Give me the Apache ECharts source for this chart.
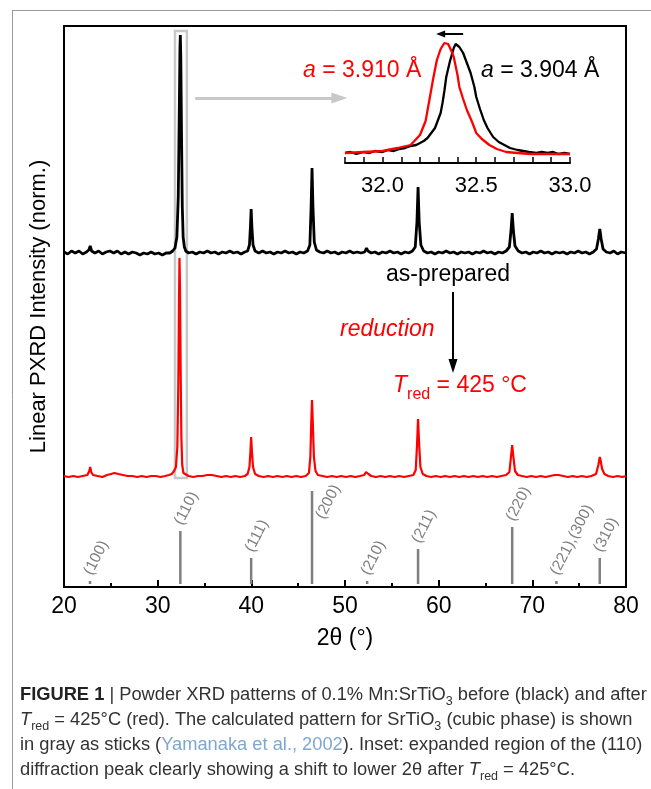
<!DOCTYPE html>
<html>
<head>
<meta charset="utf-8">
<script src="https://cdn.jsdelivr.net/npm/echarts@6.0.0/dist/echarts.min.js"></script>
<style>
  html, body { margin: 0; padding: 0; background: #fff; }
  #main { width: 651px; height: 789px; }
</style>
</head>
<body>
<div id="main"></div>
<script>
// black: as-prepared pattern (2theta, intensity, offset)
var blackPattern = [
  [20.0,335],[20.4,333],[20.8,336],[21.2,334],[21.6,336],[22.0,333],[22.4,335],[22.65,337],[22.8,341],[22.95,336],
  [23.3,334],[23.7,336],[24.1,333],[24.5,335],[24.9,336],[25.3,334],[25.7,336],[26.1,333],[26.5,335],[26.9,333],
  [27.3,335],[27.7,334],[28.1,332],[28.5,334],[28.9,333],[29.3,335],[29.7,333],[30.1,334],[30.5,332],[30.9,334],
  [31.3,334],[31.6,336],[31.85,339],[32.05,350],[32.2,390],[32.3,470],[32.38,540],[32.42,552],[32.47,530],[32.55,450],
  [32.63,380],[32.72,350],[32.85,340],[33.0,336],[33.3,334],[33.7,335],[34.1,333],[34.5,335],[34.9,334],[35.3,336],
  [35.7,334],[36.1,335],[36.5,333],[36.9,335],[37.3,334],[37.7,336],[38.1,334],[38.5,335],[38.9,333],[39.3,335],
  [39.6,336],[39.8,342],[39.9,360],[39.98,378],[40.06,360],[40.18,342],[40.4,336],[40.8,334],[41.2,336],[41.6,334],
  [42.0,335],[42.4,333],[42.8,335],[43.2,334],[43.6,336],[44.0,334],[44.4,335],[44.8,333],[45.2,335],[45.6,334],
  [46.0,336],[46.25,342],[46.38,380],[46.48,419],[46.58,380],[46.72,345],[46.95,337],[47.3,335],[47.7,334],[48.1,336],
  [48.5,334],[48.9,335],[49.3,333],[49.7,335],[50.1,334],[50.5,336],[50.9,334],[51.3,335],[51.7,334],[52.1,335],
  [52.3,339],[52.45,336],[52.8,334],[53.2,335],[53.6,333],[54.0,335],[54.4,334],[54.8,336],[55.2,334],[55.6,335],
  [56.0,333],[56.4,335],[56.8,334],[57.2,336],[57.5,340],[57.68,365],[57.8,400],[57.92,365],[58.1,342],[58.4,336],
  [58.8,334],[59.2,335],[59.6,333],[60.0,335],[60.4,334],[60.8,336],[61.2,334],[61.6,335],[62.0,333],[62.4,335],
  [62.8,334],[63.2,335],[63.6,333],[64.0,335],[64.4,334],[64.8,336],[65.2,334],[65.6,335],[66.0,333],[66.4,335],
  [66.8,334],[67.2,336],[67.55,340],[67.72,356],[67.85,374],[67.98,356],[68.15,341],[68.5,336],[68.9,334],[69.3,335],
  [69.7,333],[70.1,335],[70.5,334],[70.9,336],[71.3,334],[71.7,335],[72.1,333],[72.5,335],[72.9,334],[73.3,335],
  [73.7,333],[74.1,335],[74.5,334],[74.9,336],[75.3,334],[75.7,335],[76.1,333],[76.5,335],[76.85,338],[77.05,348],
  [77.2,358],[77.35,348],[77.55,338],[77.9,335],[78.3,334],[78.7,336],[79.1,333],[79.5,335],[80.0,334]
];
// red: after reduction at 425 C
var redPattern = [
  [20.0,111],[20.5,110],[21.0,111],[21.5,110],[22.0,111],[22.5,112],[22.7,116],[22.8,120],[22.9,115],[23.1,112],
  [23.6,111],[24.1,110],[24.6,112],[25.0,113],[25.4,114],[25.8,113],[26.3,112],[26.8,111],[27.3,111],[27.8,110],
  [28.3,111],[28.8,110],[29.3,111],[29.8,111],[30.3,110],[30.8,111],[31.2,112],[31.5,113],[31.75,116],[31.95,120],
  [32.1,140],[32.2,200],[32.28,290],[32.33,329],[32.38,300],[32.45,220],[32.53,150],[32.62,122],[32.75,114],[32.95,112],
  [33.3,111],[33.8,110],[34.3,111],[34.8,111],[35.3,112],[35.8,112],[36.3,111],[36.8,110],[37.3,111],[37.8,110],
  [38.3,111],[38.8,110],[39.3,111],[39.6,113],[39.8,120],[39.9,135],[39.98,150],[40.06,136],[40.18,120],[40.4,113],
  [40.8,111],[41.3,110],[41.8,111],[42.3,110],[42.8,111],[43.3,110],[43.8,111],[44.3,110],[44.8,111],[45.3,110],
  [45.8,111],[46.15,114],[46.3,130],[46.4,165],[46.48,187],[46.56,165],[46.68,130],[46.85,116],[47.1,112],[47.6,111],
  [48.1,110],[48.6,111],[49.1,110],[49.6,111],[50.1,110],[50.6,111],[51.1,110],[51.6,111],[52.05,112],[52.25,115],
  [52.36,117],[52.5,113],[52.8,111],[53.3,110],[53.8,111],[54.3,110],[54.8,111],[55.3,110],[55.8,111],[56.3,110],
  [56.8,111],[57.3,112],[57.55,117],[57.68,140],[57.8,168],[57.92,142],[58.05,120],[58.3,113],[58.7,111],[59.2,110],
  [59.7,111],[60.2,110],[60.7,111],[61.2,110],[61.7,111],[62.2,110],[62.7,111],[63.2,110],[63.7,111],[64.2,110],
  [64.7,111],[65.2,110],[65.7,111],[66.2,110],[66.7,111],[67.2,112],[67.55,115],[67.72,130],[67.85,142],[67.98,130],
  [68.15,116],[68.45,112],[68.9,111],[69.4,110],[69.9,111],[70.4,110],[70.9,111],[71.4,110],[71.9,111],[72.4,112],
  [72.6,113],[72.8,112],[73.3,111],[73.8,110],[74.3,111],[74.8,110],[75.3,111],[75.8,110],[76.3,111],[76.8,113],
  [77.05,122],[77.2,130],[77.3,126],[77.45,118],[77.7,113],[78.1,111],[78.6,110],[79.1,111],[79.6,110],[80.0,111]
];
// inset, (110) region
var insetBlack = [
  [31.80,10],[31.83,11],[31.86,9],[31.90,11],[31.93,10],[31.96,12],[32.00,11],[32.03,13],[32.06,12],[32.09,14],
  [32.12,15],[32.15,17],[32.18,18],[32.20,20],[32.22,22],[32.24,25],[32.26,30],[32.28,35],[32.29,40],[32.31,50],
  [32.32,60],[32.33,72],[32.34,86],[32.36,102],[32.38,115],[32.39,119],[32.40,117],[32.41,116],[32.43,110],[32.45,100],
  [32.47,90],[32.49,76],[32.50,66],[32.52,54],[32.54,43],[32.56,35],[32.59,26],[32.62,21],[32.65,18],[32.68,15],
  [32.70,14],[32.72,13],[32.75,12],[32.78,11],[32.82,10],[32.85,11],[32.88,10],[32.91,11],[32.94,9],[32.97,10],[33.00,9]
];
var insetRed = [
  [31.80,10],[31.90,11],[32.00,12],[32.08,15],[32.15,18],[32.20,28],[32.23,42],[32.25,63],[32.27,84],[32.29,103],
  [32.31,114],[32.33,120],[32.35,119],[32.37,111],[32.38,106],[32.40,88],[32.41,76],[32.43,64],[32.45,53],[32.48,40],
  [32.50,30],[32.53,24],[32.57,18],[32.61,14],[32.66,11],[32.72,10],[32.79,9],[32.90,9],[33.00,9]
];
// calculated SrTiO3 sticks
var stickPos = [22.78, 32.42, 39.98, 46.48, 52.36, 57.80, 67.85, 72.57, 77.20];
var stickInt = [6, 56, 29, 96, 6, 38, 60, 6, 29];
var stickLabels = ['(100)', '(110)', '(111)', '(200)', '(210)', '(211)', '(220)', '(221),(300)', '(310)'];

var FONT = '"Liberation Sans", Arial, sans-serif';

var sticks = [];
for (var i = 0; i < stickPos.length; i++) {
  sticks.push([stickPos[i], stickInt[i]]);
}

function cap(y, text, rich) {
  return {
    type: 'text', x: 20, y: y,
    style: { text: text, rich: rich, fill: '#333', fontSize: 18.3, fontFamily: FONT, verticalAlign: 'middle' }
  };
}
var capRich = {
  b: { fontWeight: 'bold', fontSize: 18.3, fontFamily: FONT, fill: '#222' },
  t: { fontStyle: 'italic', fontSize: 18.3, fontFamily: FONT, fill: '#333', lineHeight: 26, verticalAlign: 'middle' },
  s: { fontSize: 12.5, fontFamily: FONT, fill: '#333', lineHeight: 26, verticalAlign: 'bottom' },
  l: { fontSize: 18.3, fontFamily: FONT, fill: '#7ea7cf' }
};
var noteRich = {
  i: { fontStyle: 'italic', fontSize: 23, fontFamily: FONT, fill: '#ff0000', lineHeight: 34, verticalAlign: 'middle' },
  s: { fontSize: 16, fontFamily: FONT, fill: '#ff0000', lineHeight: 34, verticalAlign: 'bottom' },
  n: { fontSize: 23, fontFamily: FONT, fill: '#ff0000', lineHeight: 34, verticalAlign: 'middle' }
};

echarts.init(document.getElementById('main')).setOption({
  animation: false,
  backgroundColor: '#fff',
  grid: [
    { left: 64, right: 25, top: 26, bottom: 202, show: true, borderColor: '#000', borderWidth: 2 },
    { left: 345, right: 81, top: 30, bottom: 626 }
  ],
  xAxis: [{
    type: 'value', min: 20, max: 80, interval: 10, gridIndex: 0,
    name: '2θ (°)', nameLocation: 'middle', nameGap: 40,
    nameTextStyle: { fontSize: 23, fontFamily: FONT, color: '#000' },
    axisLine: { lineStyle: { color: '#000', width: 2 } },
    axisTick: { inside: true, length: 7, lineStyle: { color: '#000', width: 2 } },
    minorTick: { show: true, splitNumber: 2, length: 4, lineStyle: { color: '#000', width: 2 } },
    axisLabel: { fontSize: 23, fontFamily: FONT, color: '#000', margin: 8 },
    splitLine: { show: false }
  }, {
    type: 'value', min: 31.8, max: 33.0, interval: 0.1, gridIndex: 1,
    axisLine: { lineStyle: { color: '#000', width: 2 } },
    axisTick: { inside: true, length: 6, lineStyle: { color: '#000', width: 1.5 } },
    axisLabel: {
      fontSize: 22, fontFamily: FONT, color: '#000', margin: 12, showMinLabel: true, showMaxLabel: true,
      formatter: function (v) {
        return Math.abs(v * 2 - Math.round(v * 2)) < 1e-6 ? v.toFixed(1) : '';
      }
    },
    splitLine: { show: false }
  }],
  yAxis: [{
    type: 'value', min: 0, max: 561, gridIndex: 0,
    name: 'Linear PXRD Intensity (norm.)', nameLocation: 'middle', nameGap: 14,
    nameTextStyle: { fontSize: 22, fontFamily: FONT, color: '#000' },
    axisLine: { show: true, lineStyle: { color: '#000', width: 2 } },
    axisTick: { show: false }, axisLabel: { show: false }, splitLine: { show: false }
  }, {
    type: 'value', min: 0, max: 133, gridIndex: 1, show: false
  }],
  series: [{
    name: 'as-prepared', type: 'line', xAxisIndex: 0, yAxisIndex: 0,
    data: blackPattern, showSymbol: false, z: 3,
    lineStyle: { color: '#000', width: 2.8 },
    markArea: {
      silent: true,
      itemStyle: { color: 'rgba(0,0,0,0)', borderColor: '#c8c8c8', borderWidth: 2.5 },
      data: [[{ xAxis: 31.85, yAxis: 109 }, { xAxis: 33.12, yAxis: 556 }]]
    },
    markLine: {
      silent: true, symbol: ['none', 'triangle'], label: { show: false },
      data: [
        [{ coord: [34.0, 489], lineStyle: { color: '#c8c8c8', width: 3, type: 'solid' } },
         { coord: [49.4, 489], symbolSize: [11, 16] }],
        [{ coord: [61.53, 295], lineStyle: { color: '#000', width: 2, type: 'solid' } },
         { coord: [61.53, 221], symbolSize: [9, 14] }]
      ]
    }
  }, {
    name: 'reduced', type: 'line', xAxisIndex: 0, yAxisIndex: 0,
    data: redPattern, showSymbol: false, z: 3,
    lineStyle: { color: '#ff0000', width: 2.2 }
  }, {
    name: 'SrTiO3 calc', type: 'custom', xAxisIndex: 0, yAxisIndex: 0,
    data: sticks, clip: false,
    renderItem: function (params, api) {
      var x = api.value(0), h = api.value(1);
      var p0 = api.coord([x, 3]);
      var p1 = api.coord([x, h]);
      // long sticks: label sits beside the stick instead of on top of it
      var lab = api.coord([x, Math.min(h, 62)]);
      var dx = h > 62 ? 8 : -2;
      return {
        type: 'group',
        children: [{
          type: 'line',
          shape: { x1: p0[0], y1: p0[1], x2: p1[0], y2: p1[1] },
          style: { stroke: '#7f7f7f', lineWidth: 2.5 }
        }, {
          type: 'text', x: lab[0] + dx, y: lab[1] - 7, rotation: 63 * Math.PI / 180,
          style: {
            text: stickLabels[params.dataIndex], fill: '#808080',
            fontSize: 15.5, fontFamily: FONT, align: 'left', verticalAlign: 'middle'
          }
        }]
      };
    }
  }, {
    name: 'inset as-prepared', type: 'line', xAxisIndex: 1, yAxisIndex: 1,
    data: insetBlack, showSymbol: false,
    lineStyle: { color: '#000', width: 2.3 },
    markLine: {
      silent: true, symbol: ['none', 'triangle'], symbolSize: [7, 9], label: { show: false },
      lineStyle: { color: '#000', width: 2, type: 'solid' },
      data: [[{ coord: [32.43, 129] }, { coord: [32.31, 129] }]]
    }
  }, {
    name: 'inset reduced', type: 'line', xAxisIndex: 1, yAxisIndex: 1,
    data: insetRed, showSymbol: false,
    lineStyle: { color: '#ff0000', width: 2.3 }
  }],
  graphic: [
    { type: 'line', shape: { x1: 12, y1: 10.5, x2: 651, y2: 10.5 }, style: { stroke: '#9a9a9a', lineWidth: 1 } },
    { type: 'line', shape: { x1: 12.5, y1: 10, x2: 12.5, y2: 789 }, style: { stroke: '#9a9a9a', lineWidth: 1 } },
    { type: 'text', x: 303, y: 71, style: { text: '{i|a}{n| = 3.910 Å}', rich: noteRich, verticalAlign: 'middle' } },
    { type: 'text', x: 481, y: 71, style: {
        text: '{i|a}{n| = 3.904 Å}', verticalAlign: 'middle',
        rich: {
          i: { fontStyle: 'italic', fontSize: 23, fontFamily: FONT, fill: '#000' },
          n: { fontSize: 23, fontFamily: FONT, fill: '#000' }
        } } },
    { type: 'text', x: 448, y: 275, style: { text: 'as-prepared', fill: '#000', fontSize: 23, fontFamily: FONT, align: 'center', verticalAlign: 'middle' } },
    { type: 'text', x: 340, y: 330, style: { text: 'reduction', fill: '#ff0000', fontSize: 23, fontStyle: 'italic', fontFamily: FONT, verticalAlign: 'middle' } },
    { type: 'text', x: 393, y: 386, style: { text: '{i|T}{s|red}{n| = 425 °C}', rich: noteRich, verticalAlign: 'middle' } },
    cap(695, '{b|FIGURE 1} | Powder XRD patterns of 0.1% Mn:SrTiO{s|3} before (black) and after', capRich),
    cap(720, '{t|T}{s|red} = 425°C (red). The calculated pattern for SrTiO{s|3} (cubic phase) is shown', capRich),
    cap(745, 'in gray as sticks ({l|Yamanaka et al., 2002}). Inset: expanded region of the (110)', capRich),
    cap(770, 'diffraction peak clearly showing a shift to lower 2θ after {t|T}{s|red} = 425°C.', capRich)
  ]
});
</script>
</body>
</html>
